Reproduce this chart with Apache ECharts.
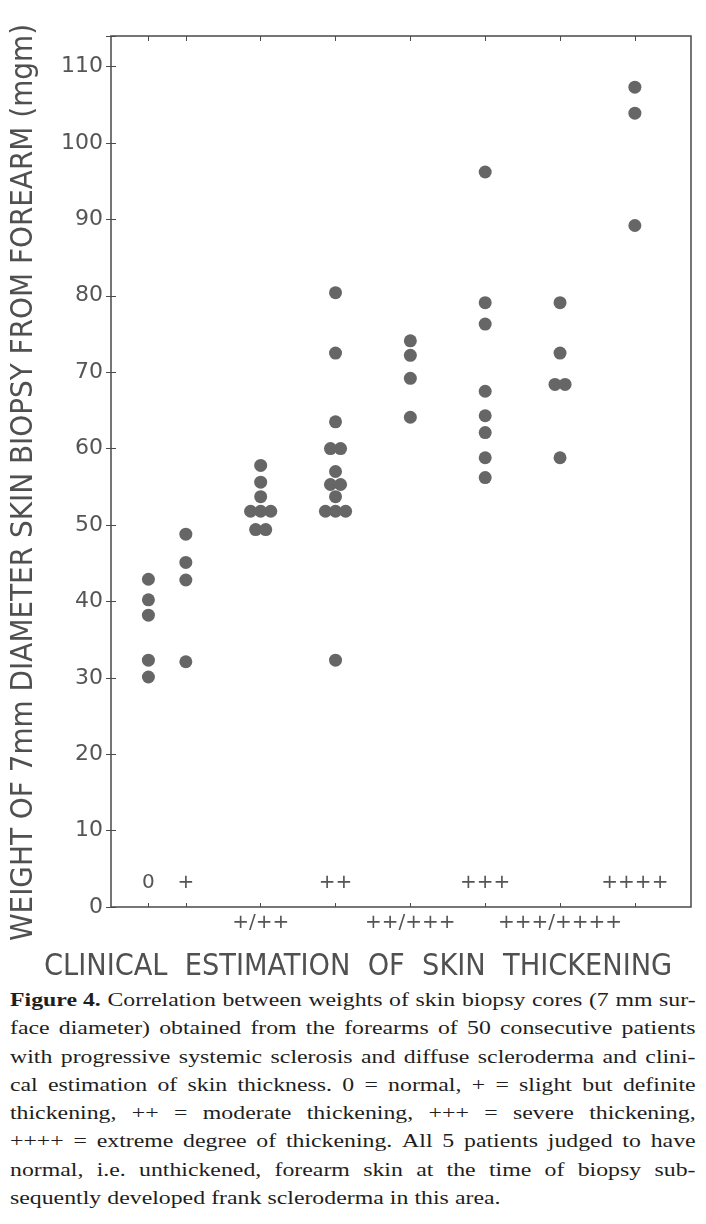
<!DOCTYPE html>
<html lang="en">
<head>
<meta charset="UTF-8">
<title>Skin biopsy weight vs clinical skin thickening</title>
<script src="https://cdn.jsdelivr.net/npm/echarts@6.0.0/dist/echarts.min.js"></script>
<style>
    * { margin: 0; padding: 0; box-sizing: border-box; }
    body { background: #fff; width: 706px; height: 1224px; position: relative; overflow: hidden; }
    #chart { width: 706px; height: 985px; }
    /* the printed caption face is a wide Times; stretch Liberation Serif to match */
    #caption {
        position: absolute;
        left: 10px;
        top: 986px;
        width: 562px;
        transform: scaleX(1.22);
        transform-origin: left top;
        font-family: 'Liberation Serif', 'DejaVu Serif', serif;
        font-size: 19.5px;
        line-height: 28.3px;
        color: #1e1e1e;
    }
    #caption .ln { display: flex; justify-content: space-between; white-space: nowrap; height: 28.3px; }
    #caption .ln.last { justify-content: flex-start; gap: 5px; }
    #caption b { font-weight: bold; }
</style>
</head>
<body>
<div id="chart"></div>
<div id="caption"></div>

<script>
    // clinical grades and where they sit on the x axis
    const grades = ['0', '+', '+/++', '++', '++/+++', '+++', '+++/++++', '++++'];
    const gradePos = [0.5, 1, 2, 3, 4, 5, 6, 7];
    const innerGrades = ['0', '+', '++', '+++', '++++'];
    const outerGrades = ['+/++', '++/+++', '+++/++++'];

    // biopsy weights (mgm) read for each grade
    const w0 = [42.9, 40.2, 38.2, 32.3, 30.1];
    const w1 = [48.8, 45.1, 42.8, 32.1];
    const w1to2 = [57.8, 55.6, 53.7, 51.8, 51.8, 51.8, 49.4, 49.4];
    const w2 = [80.4, 72.5, 63.5, 60, 60, 57, 55.3, 55.3, 53.7, 51.8, 51.8, 51.8, 32.3];
    const w2to3 = [74.1, 72.2, 69.2, 64.1];
    const w3 = [96.2, 79.1, 76.3, 67.5, 64.3, 62.1, 58.8, 56.2];
    const w3to4 = [79.1, 72.5, 68.4, 68.4, 58.8];
    const w4 = [107.3, 103.9, 89.2];
    const weights = [w0, w1, w1to2, w2, w2to3, w3, w3to4, w4];

    const yTicks = [0, 10, 20, 30, 40, 50, 60, 70, 80, 90, 100, 110];

    // caption, line by line as printed
    const captionLead = 'Figure 4.';
    const captionLines = [
        'Figure 4. Correlation between weights of skin biopsy cores (7 mm sur-',
        'face diameter) obtained from the forearms of 50 consecutive patients',
        'with progressive systemic sclerosis and diffuse scleroderma and clini-',
        'cal estimation of skin thickness. 0 = normal, + = slight but definite',
        'thickening, ++ = moderate thickening, +++ = severe thickening,',
        '++++ = extreme degree of thickening. All 5 patients judged to have',
        'normal, i.e. unthickened, forearm skin at the time of biopsy sub-',
        'sequently developed frank scleroderma in this area.'
    ];

    // build the justified caption: words spread across each full line
    const cap = document.getElementById('caption');
    captionLines.forEach(function (line, li) {
        const row = document.createElement('div');
        row.className = 'ln' + (li === captionLines.length - 1 ? ' last' : '');
        let rest = line;
        if (li === 0 && line.indexOf(captionLead) === 0) {
            const b = document.createElement('b');
            b.textContent = captionLead;
            row.appendChild(b);
            rest = line.slice(captionLead.length).trim();
        }
        rest.split(' ').forEach(function (w) {
            const s = document.createElement('span');
            s.textContent = w;
            row.appendChild(s);
        });
        cap.appendChild(row);
    });

    // tied values are set side by side, like the printed dot plot
    const tieStep = 0.135;
    const points = [];
    weights.forEach(function (vals, i) {
        const counts = {};
        vals.forEach(function (v) { counts[v] = (counts[v] || 0) + 1; });
        const seen = {};
        vals.forEach(function (v) {
            const n = counts[v];
            const k = seen[v] || 0;
            seen[v] = k + 1;
            points.push([gradePos[i] + (k - (n - 1) / 2) * tieStep, v]);
        });
    });

    function gradeLabel(v) {
        const i = gradePos.indexOf(v);
        return i < 0 ? '' : grades[i];
    }

    const lineCol = '#4a4a4a';
    const textCol = '#555';
    const titleFont = "'DejaVu Sans Condensed', 'Liberation Sans Narrow', 'DejaVu Sans', sans-serif";

    const chart = echarts.init(document.getElementById('chart'));

    const option = {
        animation: false,
        title: {
            text: 'CLINICAL  ESTIMATION  OF  SKIN  THICKENING',
            left: 39,
            top: 947,
            textStyle: {
                fontFamily: titleFont,
                fontWeight: 'normal',
                fontSize: 30.3,
                color: '#505050'
            }
        },
        grid: {
            left: 107,
            right: 15,
            top: 36,
            bottom: 78,
            show: true,
            borderColor: lineCol,
            borderWidth: 1.5,
            backgroundColor: 'transparent'
        },
        xAxis: [{
            type: 'value',
            min: 0,
            max: 7.75,
            position: 'bottom',
            axisLine: { show: false },
            splitLine: { show: false },
            axisTick: {
                show: true,
                inside: true,
                length: 4,
                customValues: gradePos,
                lineStyle: { color: lineCol }
            },
            axisLabel: {
                inside: true,
                margin: 14,
                customValues: gradePos.filter(function (p, i) { return innerGrades.indexOf(grades[i]) >= 0; }),
                formatter: gradeLabel,
                fontFamily: 'DejaVu Sans',
                fontSize: 20,
                color: textCol
            }
        }, {
            type: 'value',
            min: 0,
            max: 7.75,
            position: 'bottom',
            axisLine: { show: false },
            splitLine: { show: false },
            axisTick: { show: false },
            axisLabel: {
                margin: 6,
                customValues: gradePos.filter(function (p, i) { return outerGrades.indexOf(grades[i]) >= 0; }),
                formatter: gradeLabel,
                fontFamily: 'DejaVu Sans',
                fontSize: 20,
                color: textCol
            }
        }, {
            type: 'value',
            min: 0,
            max: 7.75,
            position: 'top',
            axisLine: { show: false },
            splitLine: { show: false },
            axisTick: {
                show: true,
                inside: true,
                length: 5,
                customValues: gradePos,
                lineStyle: { color: lineCol }
            },
            axisLabel: { show: false }
        }],
        yAxis: [{
            type: 'value',
            min: 0,
            max: 114,
            interval: 10,
            position: 'left',
            name: 'WEIGHT OF 7mm DIAMETER SKIN BIOPSY FROM FOREARM (mgm)',
            nameLocation: 'middle',
            nameRotate: 90,
            nameGap: 72,
            nameTextStyle: {
                fontFamily: titleFont,
                fontSize: 31,
                color: '#505050',
                padding: [0, 22, 0, 0]
            },
            axisLine: { show: false },
            splitLine: { show: false },
            axisTick: {
                show: true,
                inside: true,
                length: 5,
                lineStyle: { color: lineCol }
            },
            axisLabel: {
                margin: 8,
                customValues: yTicks,
                fontFamily: 'DejaVu Sans',
                fontSize: 22,
                color: textCol
            }
        }, {
            type: 'value',
            min: 0,
            max: 114,
            interval: 10,
            position: 'right',
            axisLine: { show: false },
            splitLine: { show: false },
            axisTick: {
                show: true,
                inside: true,
                length: 5,
                lineStyle: { color: lineCol }
            },
            axisLabel: { show: false }
        }],
        series: [{
            type: 'scatter',
            xAxisIndex: 0,
            yAxisIndex: 0,
            symbol: 'circle',
            symbolSize: 13,
            itemStyle: { color: '#666', opacity: 1 },
            data: points
        }]
    };

    chart.setOption(option);
</script>
</body>
</html>
